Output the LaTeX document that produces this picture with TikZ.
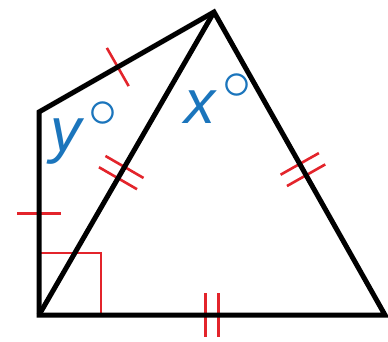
\documentclass[tikz,border=0pt]{standalone}
\usepackage{fontspec}
\setmainfont{Liberation Sans}
\usepackage{graphicx}
\usepackage{tikz}
\usetikzlibrary{calc}
\definecolor{markred}{HTML}{E3242B}
\definecolor{angleblue}{HTML}{1B75BC}
\newcommand{\degmark}{\hspace{7pt}\raisebox{23.5pt}{\scalebox{5.8}{\fontsize{10}{12}\selectfont$\circ$}}}
\tikzset{
  side/.style       = {line width=5pt, draw=black},
  tickmark/.style   = {line width=2.6pt, draw=markred},
  anglelabel/.style = {font=\fontsize{62}{62}\selectfont\itshape, text=angleblue,
                       inner sep=0pt},
}

\begin{document}
\begin{tikzpicture}[x=1pt, y=-1pt]
  \useasboundingbox (0,0) rectangle (388,341);

  % ----- corners -----
  \coordinate (A) at (39,315);
  \coordinate (B) at (39,112);
  \coordinate (C) at (214,12);
  \coordinate (D) at (385,315);

  % ----- right angle -----
  \draw[tickmark] ($(A)+(0,-62)$) -| ($(A)+(62,0)$);

  % ----- single ticks -----
  \foreach \p/\q/\t in {A/B/0.5, B/C/0.45}
     {\draw[tickmark] ($($(\p)!\t!(\q)$)!22pt!90:(\q)$) -- ($($(\p)!\t!(\q)$)!22pt!-90:(\q)$);}

  % ----- double ticks -----
  \foreach \p/\q/\t in {A/C/0.47, C/D/0.52, A/D/0.5}
    \foreach \s in {-6.5,6.5}
     {\coordinate (n) at ($($(\p)!\t!(\q)$)!\s pt!(\q)$);
      \draw[tickmark] ($(n)!22pt!90:(\q)$) -- ($(n)!22pt!-90:(\q)$);}

  % ----- sides -----
  \draw[side] (A) -- (B) -- (C) -- (D) -- cycle;
  \draw[side] (A) -- (C);

  % ----- angles -----
  \node[anglelabel, anchor=base west] (ylabel) at (50,151) {y\degmark};
  \node[anglelabel, anchor=base west] (xlabel) at (184,123) {x\degmark};

\end{tikzpicture}
\end{document}
